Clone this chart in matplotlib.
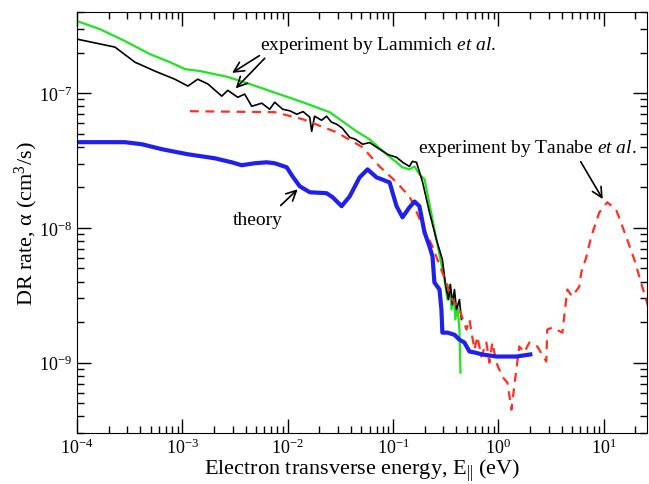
import matplotlib
matplotlib.use("Agg")
import matplotlib.pyplot as plt
from matplotlib.ticker import LogLocator, NullFormatter, LogFormatterMathtext

plt.rcParams['font.family'] = ['Liberation Serif', 'DejaVu Serif']
plt.rcParams['mathtext.fontset'] = 'custom'
plt.rcParams['mathtext.rm'] = 'Liberation Serif'
plt.rcParams['mathtext.it'] = 'Liberation Serif:italic'

# Lammich experiment (green)
green_E = [1.0e-4, 1.65e-4, 2.85e-4, 4.92e-4, 7.62e-4, 1.06e-3, 1.47e-3, 2.70e-3, 4.37e-3,
           6.75e-3, 1.39e-2, 2.50e-2, 4.51e-2, 5.98e-2, 8.67e-2, 0.123, 0.143, 0.160,
           0.178, 0.199, 0.222, 0.247, 0.276, 0.308, 0.329, 0.344, 0.359, 0.374, 0.391,
           0.408, 0.427, 0.437]
green_rate = [3.43e-7, 2.99e-7, 2.44e-7, 1.95e-7, 1.70e-7, 1.51e-7, 1.46e-7, 1.32e-7, 1.17e-7,
              1.04e-7, 8.57e-8, 7.23e-8, 5.21e-8, 4.55e-8, 3.52e-8, 2.82e-8, 2.72e-8, 2.86e-8,
              2.50e-8, 2.30e-8, 1.50e-8, 9.75e-9, 6.35e-9, 4.14e-9, 2.94e-9, 3.80e-9, 2.48e-9, 3.21e-9,
              2.09e-9, 2.70e-9, 1.76e-9, 8.43e-10]

# Lammich experiment (black)
black_E = [1.0e-4, 2.29e-4, 3.55e-4, 5.48e-4, 8.49e-4, 1.13e-3, 1.40e-3, 1.75e-3, 2.37e-3,
           2.70e-3, 3.36e-3, 3.91e-3, 4.56e-3, 5.68e-3, 6.75e-3, 7.53e-3, 8.97e-3, 1.05e-2,
           1.22e-2, 1.40e-2, 1.62e-2, 1.69e-2, 1.80e-2, 2.10e-2, 2.34e-2, 2.60e-2, 2.91e-2,
           3.30e-2, 3.87e-2, 4.40e-2, 5.14e-2, 6.00e-2, 7.45e-2, 9.00e-2, 0.108, 0.125, 0.143,
           0.153, 0.167, 0.191, 0.222, 0.258, 0.294, 0.315, 0.336, 0.351, 0.366, 0.383, 0.400,
           0.427, 0.446]
black_rate = [2.52e-7, 2.20e-7, 1.70e-7, 1.46e-7, 1.27e-7, 1.13e-7, 1.27e-7, 1.17e-7, 9.51e-8,
              1.05e-7, 9.33e-8, 9.84e-8, 8.00e-8, 8.43e-8, 7.60e-8, 8.57e-8, 7.60e-8, 7.40e-8,
              6.98e-8, 7.30e-8, 6.64e-8, 5.21e-8, 6.75e-8, 6.30e-8, 6.75e-8, 6.10e-8, 5.89e-8,
              5.50e-8, 4.71e-8, 4.55e-8, 4.18e-8, 4.30e-8, 3.84e-8, 3.50e-8, 3.34e-8, 3.05e-8, 2.86e-8,
              3.12e-8, 3.07e-8, 2.18e-8, 1.30e-8, 8.20e-9, 5.83e-9, 3.80e-9, 2.94e-9, 3.80e-9, 2.70e-9,
              3.49e-9, 2.48e-9, 2.94e-9, 2.09e-9]

# Tanabe experiment (red dashed)
red_E = [1.18e-3, 7.53e-3, 1.39e-2, 2.91e-2, 5.14e-2, 7.45e-2, 0.108, 0.143, 0.153, 0.191,
         0.237, 0.294, 0.366, 0.427, 0.498, 0.531, 0.593, 0.632, 0.690, 0.769, 0.822, 0.877,
         0.957, 1.09, 1.22, 1.33, 1.48, 1.58, 1.76, 1.97, 2.34, 2.85, 2.91, 3.25, 4.05, 4.51,
         5.02, 5.86, 6.12, 6.82, 7.62, 9.06, 10.8, 13.1, 16.3, 19.5, 23.2, 26.4]
red_rate = [7.35e-8, 7.23e-8, 6.41e-8, 5.13e-8, 3.97e-8, 2.86e-8, 2.18e-8, 1.71e-8, 1.55e-8, 1.03e-8,
            7.28e-9, 4.67e-9, 2.94e-9, 2.48e-9, 1.76e-9, 2.09e-9, 1.25e-9, 1.56e-9, 1.11e-9, 1.41e-9,
            1.00e-9, 1.41e-9, 1.00e-9, 7.87e-10, 7.10e-10, 4.48e-10, 8.87e-10, 1.32e-9, 1.19e-9,
            1.41e-9, 1.32e-9, 1.02e-9, 1.76e-9, 1.82e-9, 1.67e-9, 3.49e-9, 3.10e-9, 3.67e-9,
            4.67e-9, 6.04e-9, 8.65e-9, 1.30e-8, 1.55e-8, 1.37e-8, 8.65e-9, 5.83e-9, 3.67e-9, 2.61e-9]

# Theory (blue)
blue_E = [1.0e-4, 2.85e-4, 4.13e-4, 6.40e-4, 1.13e-3, 2.03e-3, 2.94e-3, 3.66e-3, 4.86e-3,
          6.32e-3, 7.53e-3, 9.79e-3, 1.11e-2, 1.30e-2, 1.62e-2, 2.34e-2, 2.67e-2, 3.25e-2,
          3.87e-2, 4.81e-2, 5.73e-2, 6.98e-2, 7.78e-2, 8.67e-2, 9.27e-2, 0.108, 0.123, 0.143,
          0.160, 0.178, 0.199, 0.222, 0.237, 0.247, 0.276, 0.288, 0.294, 0.329, 0.383, 0.427,
          0.476, 0.531, 0.593, 0.705, 0.957, 1.48, 2.01]
blue_rate = [4.33e-8, 4.33e-8, 4.18e-8, 3.84e-8, 3.52e-8, 3.29e-8, 3.07e-8, 2.92e-8, 3.02e-8,
             3.07e-8, 3.02e-8, 2.82e-8, 2.42e-8, 2.04e-8, 1.84e-8, 1.81e-8, 1.69e-8, 1.45e-8,
             1.71e-8, 2.37e-8, 2.72e-8, 2.37e-8, 2.30e-8, 2.22e-8, 2.18e-8, 1.45e-8, 1.20e-8, 1.42e-8,
             1.57e-8, 1.45e-8, 9.27e-9, 7.28e-9, 6.14e-9, 3.94e-9, 3.49e-9, 2.48e-9, 1.67e-9, 1.67e-9,
             1.61e-9, 1.48e-9, 1.41e-9, 1.21e-9, 1.19e-9, 1.15e-9, 1.11e-9, 1.11e-9, 1.15e-9]

fig = plt.figure(figsize=(6.49, 4.85), dpi=100)
ax = fig.add_axes([0.1186, 0.105, 0.879, 0.868])

ax.plot(green_E, green_rate, color='#1ee61e', lw=1.6)
ax.plot(black_E, black_rate, color='black', lw=1.2)
ax.plot(red_E, red_rate, color='#ff3020', lw=1.6, dashes=(4, 3))
ax.plot(blue_E, blue_rate, color='#2020ee', lw=3.0)

ax.set_xscale('log')
ax.set_yscale('log')
ax.set_xlim(1e-4, 26)
ax.set_ylim(3e-10, 4e-7)

for axis in (ax.xaxis, ax.yaxis):
    axis.set_major_locator(LogLocator(base=10, numticks=20))
    axis.set_minor_locator(LogLocator(base=10, subs=range(2, 10), numticks=20))
    axis.set_minor_formatter(NullFormatter())
    axis.set_major_formatter(LogFormatterMathtext())
ax.tick_params(which='both', direction='in', top=True, right=True, labelsize=13)
ax.tick_params(which='major', length=10, width=1)
ax.tick_params(which='minor', length=5, width=1)
ax.tick_params(axis='x', pad=3)

ax.set_xlabel('Electron transverse energy, E$_{||}$ (eV)', fontsize=16, labelpad=0)
ax.set_ylabel('DR rate, α (cm$^3$/s)', fontsize=16, labelpad=-1)

arrow = dict(arrowstyle='->', color='black', lw=1.2, mutation_scale=18)
ax.text(5.43e-3, 2.31e-7, 'experiment by Lammich $et\\ al$.', fontsize=14, va='center', ha='left')
ax.annotate('', xy=(2.82e-3, 1.38e-7), xytext=(5.68e-3, 1.95e-7), arrowprops=arrow)
ax.annotate('', xy=(3.08e-3, 1.05e-7), xytext=(6.32e-3, 1.88e-7), arrowprops=arrow)

ax.text(0.171, 3.97e-8, 'experiment by Tanabe $et\\ al$.', fontsize=14, va='center', ha='left')
ax.annotate('', xy=(10.1, 1.57e-8), xytext=(5.86, 3.23e-8), arrowprops=arrow)

ax.text(5.20e-3, 1.16e-8, 'theory', fontsize=14, va='center', ha='center')
ax.annotate('', xy=(1.30e-2, 2.0e-8), xytext=(8.22e-3, 1.42e-8), arrowprops=arrow)

fig.savefig('out.png', dpi=100)
